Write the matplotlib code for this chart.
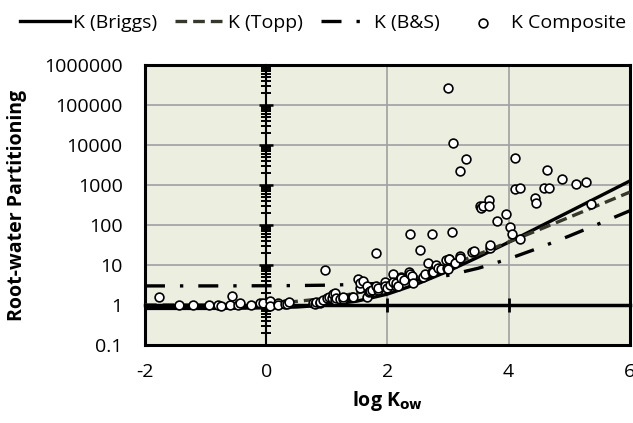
import matplotlib
matplotlib.use("Agg")
import matplotlib.pyplot as plt
import numpy as np
from matplotlib.ticker import LogLocator, FixedLocator, FuncFormatter, NullFormatter

plt.rcParams['font.family'] = ['Open Sans', 'DejaVu Sans']
plt.rcParams['axes.unicode_minus'] = False

# model curves, every 0.5 log units
log_kow = [-2, -1.5, -1, -0.5, 0, 0.5, 1, 1.5, 2, 2.5, 3, 3.5, 4, 4.5, 5, 5.5, 6]
k_briggs = [0.82, 0.82, 0.82, 0.83, 0.85, 0.89, 1.0, 1.25, 1.87, 3.4, 7.0,
            15.8, 37, 89, 215, 520, 1260]
k_topp = [1.0, 1.0, 1.0, 1.05, 1.11, 1.23, 1.47, 2.0, 3.0, 5.0, 9.5,
          18.5, 37.4, 76, 156, 321, 663]
k_bs = [3.0, 3.0, 3.0, 3.01, 3.03, 3.06, 3.13, 3.27, 3.56, 4.2, 5.5,
        8.3, 14.2, 26.7, 53, 109, 227]

# composite measurements
comp_x = [-1.77, -1.44, -1.20, -0.94, -0.79, -0.74, -0.59, -0.56, -0.46, -0.44,
          -0.25, -0.11, -0.05, 0.07, 0.07, 0.19, 0.20, 0.31, 0.34, 0.38,
          0.78, 0.81, 0.83, 0.89, 0.89, 0.94, 0.97, 1.00, 1.04, 1.08,
          1.10, 1.14, 1.14, 1.16, 1.22, 1.27, 1.27, 1.41, 1.44, 1.52,
          1.55, 1.55, 1.60, 1.66, 1.66, 1.69, 1.71, 1.74, 1.81, 1.82,
          1.85, 1.85, 1.96, 1.96, 1.99, 2.04, 2.10, 2.10, 2.15, 2.15,
          2.18, 2.23, 2.23, 2.28, 2.36, 2.37, 2.37, 2.41, 2.42, 2.53,
          2.59, 2.62, 2.67, 2.73, 2.74, 2.75, 2.81, 2.84, 2.89, 2.97,
          2.98, 3.00, 3.00, 3.01, 3.02, 3.07, 3.09, 3.11, 3.19, 3.20,
          3.20, 3.30, 3.40, 3.43, 3.52, 3.55, 3.58, 3.67, 3.68, 3.69,
          3.70, 3.81, 3.96, 4.03, 4.05, 4.10, 4.10, 4.18, 4.19, 4.44,
          4.45, 4.58, 4.63, 4.67, 4.88, 5.12, 5.28, 5.36]
comp_k = [1.6, 1.0, 1.0, 1.0, 1.0, 0.97, 1.0, 1.65, 1.0, 1.1,
          1.0, 1.1, 1.1, 1.26, 0.94, 1.1, 1.0, 1.06, 1.04, 1.2,
          1.14, 1.05, 1.2, 1.1, 1.17, 1.33, 7.6, 1.47, 1.6, 1.5,
          1.85, 1.33, 2.0, 1.47, 1.41, 1.41, 1.6, 1.6, 1.6, 4.5,
          2.6, 3.5, 4.0, 1.55, 2.9, 2.15, 2.3, 2.4, 3.0, 19.6,
          2.4, 2.6, 3.8, 2.9, 2.6, 3.2, 6.0, 3.8, 3.0, 3.5,
          3.0, 5.1, 4.8, 4.2, 6.8, 60, 6.0, 5.3, 3.5, 23.7,
          5.1, 6.0, 11, 60, 6.8, 6.8, 10, 8.3, 7.8, 13.3,
          8.3, 270000, 7.8, 13.9, 14, 68, 11000, 11, 16.8, 2190,
          15, 4560, 21.5, 22, 290, 270, 290, 420, 300, 26,
          31, 125, 193, 87, 58, 4730, 780, 45, 860, 480,
          360, 860, 2400, 860, 1440, 1040, 1170, 330]

y_ticks = [0.1, 1, 10, 100, 1000, 10000, 100000, 1000000]

fig = plt.figure(figsize=(6.33, 4.23), dpi=100)
pos = [0.229, 0.1844, 0.766, 0.662]
ax = fig.add_axes(pos)
ax.set_facecolor('#ECEEE0')
ax.set_yscale('log')
ax.set_xlim(-2, 6)
ax.set_ylim(0.1, 1000000)
ax.xaxis.set_major_locator(FixedLocator([-2, 0, 2, 4, 6]))
ax.yaxis.set_major_locator(FixedLocator(y_ticks))
ax.yaxis.set_minor_locator(LogLocator(base=10, subs=range(2, 10), numticks=20))
ax.yaxis.set_major_formatter(FuncFormatter(lambda v, p: '0.1' if v < 1 else f'{v:.0f}'))
ax.yaxis.set_minor_formatter(NullFormatter())
ax.tick_params(which='both', length=0, labelsize=14, colors='black')
ax.tick_params(axis='y', pad=16)
ax.tick_params(axis='x', pad=13)
ax.grid(which='major', color='#A0A0A0', lw=1.2)
for s in ax.spines.values():
    s.set_linewidth(2.2)
ax.set_xlabel(r'log K$_{\mathbf{ow}}$', fontsize=14, fontweight='bold', labelpad=6)
ax.set_ylabel('Root-water Partitioning', fontsize=14, fontweight='bold', labelpad=12)

# overlay axes: crossing axis lines at x=0 and y=1, plus the data
ax2 = fig.add_axes(pos, sharex=ax, sharey=ax)
ax2.patch.set_visible(False)
ax2.spines['top'].set_visible(False)
ax2.spines['right'].set_visible(False)
ax2.spines['left'].set_position(('data', 0))
ax2.spines['bottom'].set_position(('data', 1))
ax2.spines['left'].set_linewidth(1.5)
ax2.spines['bottom'].set_linewidth(2.5)
ax2.tick_params(labelleft=False, labelbottom=False)
ax2.tick_params(axis='y', which='major', direction='inout', length=10, width=1.8)
ax2.tick_params(axis='y', which='minor', direction='inout', length=7, width=1.4)
ax2.tick_params(axis='x', which='major', direction='inout', length=10, width=2)

l1, = ax2.plot(log_kow, k_briggs, '-', color='black', lw=2.4, label='K (Briggs)')
l2, = ax2.plot(log_kow, k_topp, color='#38382A', lw=2.4, ls=(0, (3.5, 1.8)),
               label='K (Topp)')
l3, = ax2.plot(log_kow, k_bs, color='black', lw=2.4, ls=(0, (6, 4.5, 1, 4.5)),
               label='K (B&S)')
sc = ax2.scatter(comp_x, comp_k, s=40, facecolor='white', edgecolor='black',
                 linewidths=1.2, zorder=4, label='K Composite')

fig.legend(handles=[l1, l2, l3, sc], loc='upper center', bbox_to_anchor=(0.51, 0.995),
           ncol=4, frameon=False, fontsize=14, handlelength=2.6, handletextpad=0.15,
           columnspacing=0.9, borderaxespad=0.2)

fig.savefig('out.png', dpi=100)
